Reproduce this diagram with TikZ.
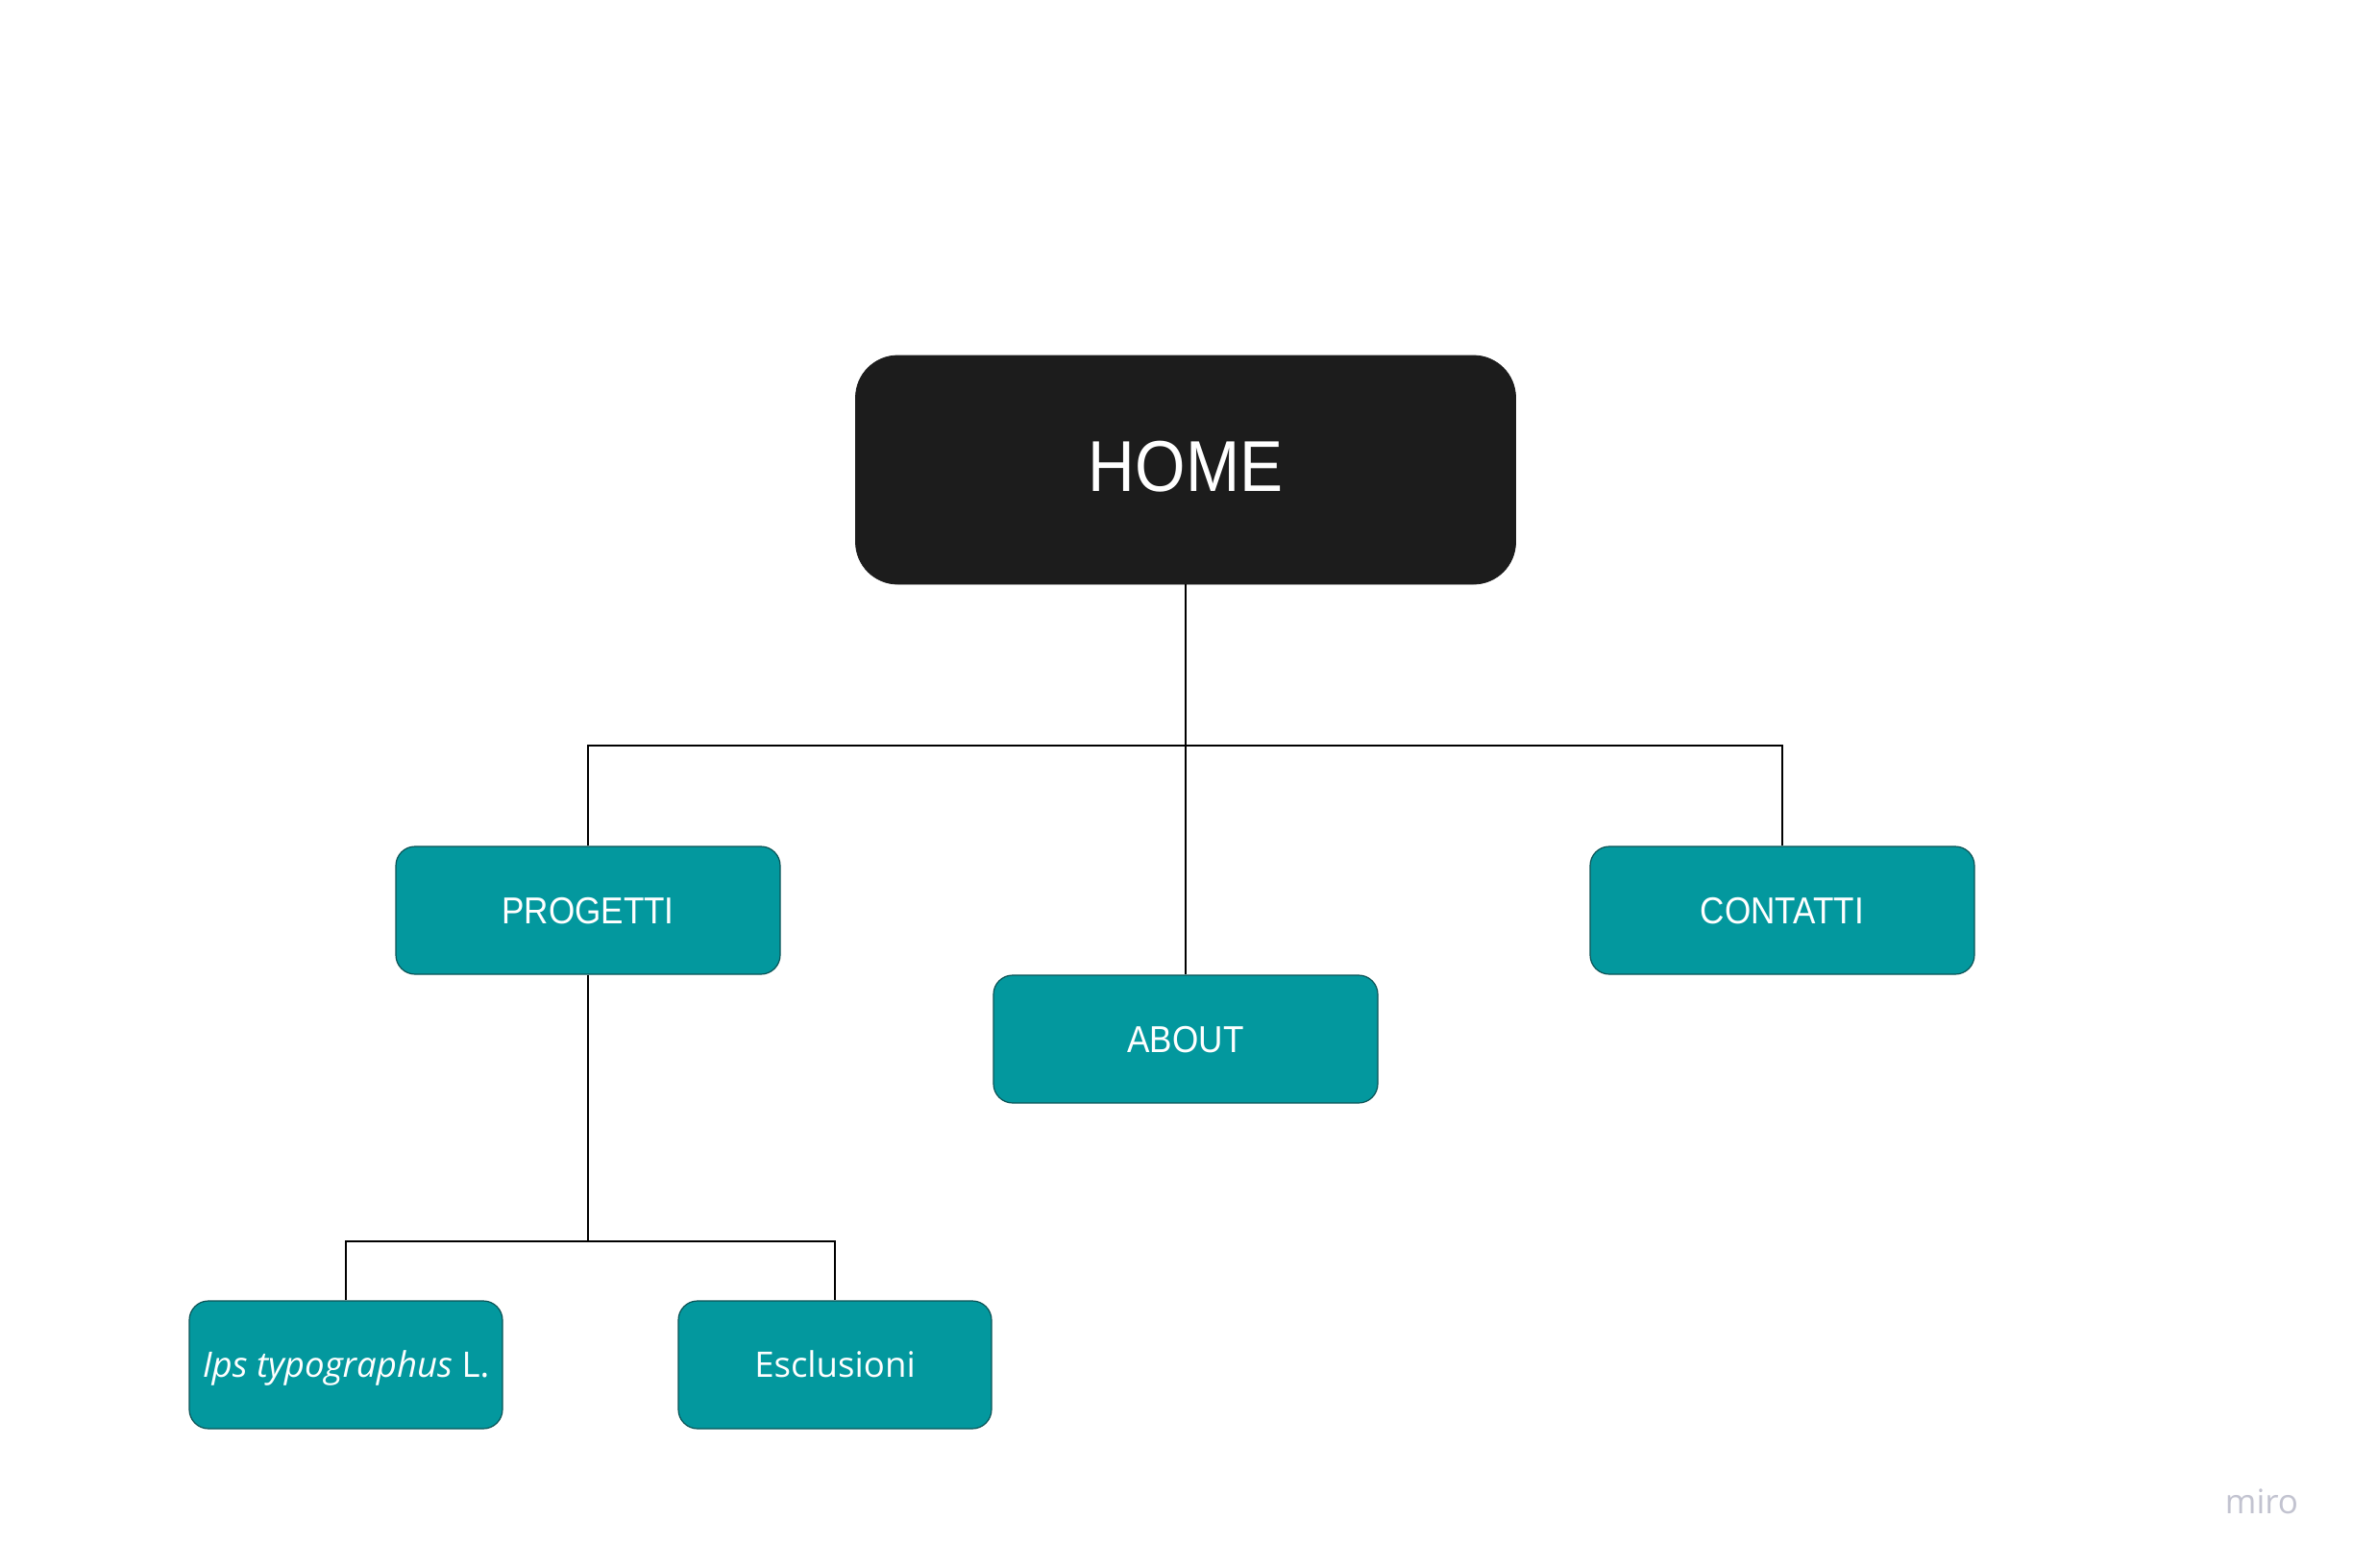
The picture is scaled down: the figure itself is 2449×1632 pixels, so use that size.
\documentclass[tikz,border=0pt]{standalone}
\usepackage{fontspec}
\setmainfont{Open Sans}
\newfontfamily\robo[FakeStretch=0.9]{Liberation Sans}
\newfontfamily\opens{Open Sans}
\definecolor{teal1}{HTML}{03989E}
\definecolor{tealedge}{HTML}{0B5457}
\definecolor{homefill}{HTML}{1C1C1C}
\definecolor{mirogray}{HTML}{C2C3D0}
\begin{document}
\begin{tikzpicture}[x=0.5pt,y=-0.5pt,
  homebox/.style={draw=homefill,fill=homefill,rounded corners=22pt,minimum width=343.5pt,minimum height=119pt,inner sep=0pt,text=white,font=\robo\fontsize{37.5}{40}\selectfont,text height=27pt,text depth=5pt},
  topbox/.style={draw=tealedge,line width=0.6pt,fill=teal1,rounded corners=10pt,minimum width=200pt,minimum height=66.5pt,inner sep=0pt,text=white,font=\robo\fontsize{19.5}{22}\selectfont,text height=14pt,text depth=0pt},
  subbox/.style={draw=tealedge,line width=0.6pt,fill=teal1,rounded corners=10pt,minimum width=163pt,minimum height=66.5pt,inner sep=0pt,text=white,font=\opens\fontsize{18.3}{21}\selectfont,text height=13pt,text depth=0pt},
  conn/.style={draw=black,line width=0.8pt}]
\useasboundingbox (0,0) rectangle (2449,1632);
\fill[white] (0,0) rectangle (2449,1632);
\node[homebox] (home) at (1234,489) {HOME};
\node[topbox] (progetti) at (612,947.5) {PROGETTI};
\node[topbox] (contatti) at (1855,947.5) {CONTATTI};
\node[topbox] (about) at (1234,1081.5) {ABOUT};
\node[subbox] (ips) at (360,1420.5) {\textit{Ips typographus} L.};
\node[subbox] (escl) at (869,1420.5) {Esclusioni};
\coordinate (hb) at (1234,776);
\coordinate (pb) at (612,1292);
\draw[conn] (home.south) -- (about.north);
\draw[conn] (progetti.north) |- (hb) -| (contatti.north);
\draw[conn] (progetti.south) -- (pb);
\draw[conn] (ips.north) |- (pb) -| (escl.north);
\node[text=mirogray,font=\opens\fontsize{17.5}{20}\selectfont,inner sep=0pt] (miro) at (2354,1563) {miro};
\end{tikzpicture}
\end{document}
